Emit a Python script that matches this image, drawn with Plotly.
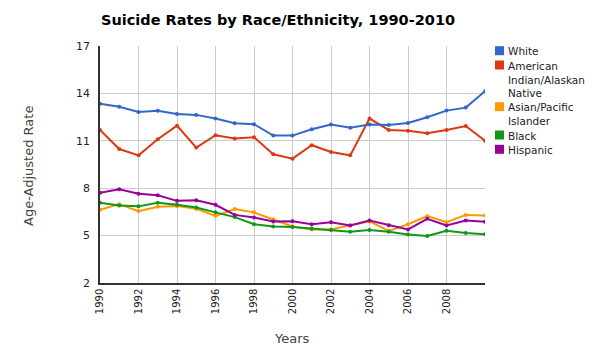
import plotly.graph_objects as go

years = list(range(1990, 2011))
white = [13.34, 13.15, 12.83, 12.90, 12.70, 12.64, 12.41, 12.11, 12.05, 11.33, 11.33,
         11.73, 12.03, 11.82, 12.03, 12.00, 12.13, 12.49, 12.91, 13.10, 14.14]
am_indian = [11.69, 10.48, 10.08, 11.10, 11.96, 10.57, 11.35, 11.14, 11.23, 10.15, 9.87,
             10.72, 10.29, 10.08, 12.41, 11.69, 11.63, 11.48, 11.69, 11.94, 11.01]
asian = [6.63, 6.99, 6.55, 6.82, 6.87, 6.70, 6.25, 6.68, 6.47, 6.02, 5.58,
         5.39, 5.39, 5.66, 5.90, 5.30, 5.72, 6.23, 5.85, 6.31, 6.28]
black = [7.08, 6.91, 6.85, 7.08, 6.95, 6.78, 6.47, 6.17, 5.72, 5.58, 5.55,
         5.45, 5.36, 5.24, 5.36, 5.24, 5.07, 4.98, 5.30, 5.17, 5.09]
hispanic = [7.71, 7.93, 7.65, 7.55, 7.20, 7.23, 6.95, 6.31, 6.15, 5.90, 5.91,
            5.72, 5.85, 5.64, 5.96, 5.66, 5.39, 6.06, 5.64, 5.96, 5.87]

series_names = ["White", "American<br>Indian/Alaskan<br>Native", "Asian/Pacific<br>Islander",
                "Black", "Hispanic"]
series_values = [white, am_indian, asian, black, hispanic]
colors = ["#3366cc", "#dc3912", "#ff9900", "#109618", "#990099"]
y_ticks = [2, 5, 8, 11, 14, 17]
x_ticks = list(range(1990, 2010, 2))

fig = go.Figure()
# draw order: later ones on top
order = [2, 3, 4, 1, 0]
for i in order:
    fig.add_trace(go.Scatter(
        x=years, y=series_values[i], mode="lines+markers",
        line=dict(color=colors[i], width=2),
        marker=dict(color=colors[i], size=4),
        name=series_names[i], showlegend=False))

L, R, T, B = 100, 110, 46, 69
W, H = 595, 352
pw, ph = W - L - R, H - T - B

def px_x(x):
    return (x - L) / pw

def px_y(y):
    return (H - B - y) / ph

annotations = []
shapes = []
legend_centers = [50.7, 65, 106.7, 135, 149.3]
for name, col, yc in zip(series_names, colors, legend_centers):
    shapes.append(dict(type="rect", xref="paper", yref="paper",
                       x0=px_x(495), x1=px_x(504), y0=px_y(yc + 4.5), y1=px_y(yc - 4.5),
                       fillcolor=col, line=dict(width=0)))
    annotations.append(dict(text=name, xref="paper", yref="paper",
                            x=px_x(506), y=px_y(yc - 7.5), xanchor="left", yanchor="top",
                            showarrow=False, align="left",
                            font=dict(family="DejaVu Sans", size=10.5, color="#222222")))

annotations.append(dict(text="Years", xref="paper", yref="paper", x=px_x(292), y=px_y(338),
                        xanchor="center", yanchor="middle", showarrow=False,
                        font=dict(family="DejaVu Sans", size=13, color="#444444")))
annotations.append(dict(text="Age-Adjusted Rate", xref="paper", yref="paper", x=px_x(28),
                        y=px_y(166), xanchor="center", yanchor="middle", textangle=-90,
                        showarrow=False,
                        font=dict(family="DejaVu Sans", size=13, color="#444444")))
annotations.append(dict(text="<b>Suicide Rates by Race/Ethnicity, 1990-2010</b>",
                        xref="paper", yref="paper", x=px_x(278), y=px_y(20),
                        xanchor="center", yanchor="middle", showarrow=False,
                        font=dict(family="DejaVu Sans", size=14.5, color="#000000")))

fig.update_layout(
    width=W, height=H,
    margin=dict(l=L, r=R, t=T, b=B),
    paper_bgcolor="white", plot_bgcolor="white",
    annotations=annotations, shapes=shapes,
    showlegend=False,
    xaxis=dict(range=[1990, 2010], tickvals=x_ticks, ticktext=[str(v) for v in x_ticks],
               tickangle=-90, showgrid=True, gridcolor="#cccccc", gridwidth=1,
               zeroline=False, showline=True, linecolor="#333333", linewidth=1.5,
               ticks="", tickfont=dict(family="DejaVu Sans", size=10, color="#222222")),
    yaxis=dict(range=[2, 17], tickvals=y_ticks, showgrid=True, gridcolor="#cccccc",
               gridwidth=1, zeroline=False, showline=True, linecolor="#333333",
               linewidth=1.5, ticks="", ticklabelstandoff=6,
               tickfont=dict(family="DejaVu Sans", size=11, color="#222222")),
)

fig.write_html("out.html")
